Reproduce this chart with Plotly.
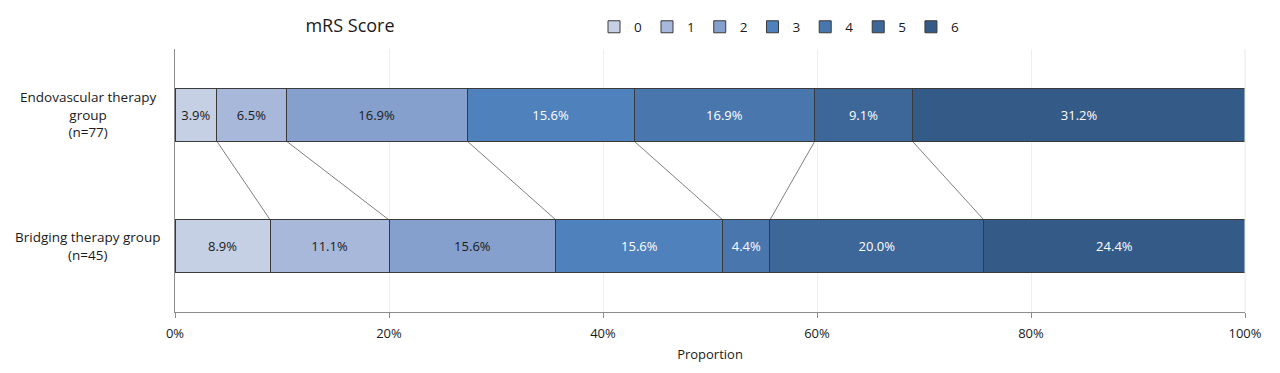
import plotly.graph_objects as go

groups = ["Endovascular therapy<br>group<br>(n=77)", "Bridging therapy group<br>(n=45)"]
scores = ["0", "1", "2", "3", "4", "5", "6"]
endo = [3.9, 6.5, 16.9, 15.6, 16.9, 9.1, 31.2]
bridging = [8.9, 11.1, 15.6, 15.6, 4.4, 20.0, 24.4]
colors = ["#c6d0e4", "#a8b8da", "#86a0cd", "#4f81bd", "#4a76ae", "#3d6699", "#345a88"]
text_colors = ["#1a1a1a", "#1a1a1a", "#1a1a1a", "white", "white", "white", "white"]
xticks = [0, 20, 40, 60, 80, 100]
xticktext = ["0%", "20%", "40%", "60%", "80%", "100%"]

ypos = [1, 0]  # endovascular on top
bar_w = 0.4

W, H = 1272, 365  # page has an 8px body margin
L, R, T, B = 167, 35, 41, 61

fig = go.Figure()
for i, s in enumerate(scores):
    vals = [endo[i], bridging[i]]
    fig.add_trace(go.Bar(
        y=ypos, x=vals, orientation="h", name=s, width=bar_w,
        marker=dict(color=colors[i], line=dict(color="#3a3a3a", width=1)),
        text=[f"{v:.1f}%" for v in vals], textposition="inside",
        insidetextanchor="middle",
        textfont=dict(color=text_colors[i], size=13, family="Open Sans"),
        hoverinfo="skip",
    ))

# connector lines between cumulative boundaries
ce, cb = 0.0, 0.0
for i in range(len(scores) - 1):
    ce += endo[i]
    cb += bridging[i]
    fig.add_shape(type="line", xref="x", yref="y",
                  x0=ce, y0=1 - bar_w / 2, x1=cb, y1=0 + bar_w / 2,
                  line=dict(color="#7f7f7f", width=1), layer="below")

# group labels, centred like the original
plot_w = W - L - R
for yv, g in zip(ypos, groups):
    fig.add_annotation(x=(80 - L) / plot_w, xref="paper", y=yv, yref="y", text=g,
                       showarrow=False, align="center", xanchor="center", yanchor="middle",
                       font=dict(size=13.5, color="#1a1a1a"))

fig.update_layout(
    barmode="stack",
    width=W, height=H,
    margin=dict(l=L, r=R, t=T, b=B, autoexpand=False),
    paper_bgcolor="white", plot_bgcolor="white",
    font=dict(family="Open Sans", color="#1a1a1a"),
    title=dict(text="mRS Score", x=342 / W, xref="container", xanchor="center",
               y=1 - 18 / H, yref="container", yanchor="middle",
               font=dict(size=18, color="#1a1a1a")),
    legend=dict(orientation="h", x=586 / W, xref="container", xanchor="left",
                y=1 - 19 / H, yref="container", yanchor="middle",
                font=dict(size=13.5), itemwidth=30, traceorder="normal",
                tracegroupgap=0, bgcolor="rgba(0,0,0,0)"),
    showlegend=True,
)
fig.update_xaxes(range=[0, 100], tickvals=xticks, ticktext=xticktext, automargin=False,
                 showgrid=True, gridcolor="#efefef", zeroline=False,
                 showline=True, linecolor="#8c8c8c", linewidth=1, mirror=False,
                 ticks="outside", ticklen=5, tickcolor="#8c8c8c", ticklabelstandoff=4,
                 tickfont=dict(size=13), title=dict(text="Proportion", font=dict(size=13), standoff=9))
fig.update_yaxes(range=[-0.5, 1.5], tickvals=ypos, showticklabels=False, automargin=False,
                 showgrid=False, zeroline=False, showline=True, linecolor="#8c8c8c",
                 linewidth=1, ticks="")
# faint right border
fig.add_shape(type="line", xref="paper", yref="paper", x0=1, x1=1, y0=0, y1=1,
              line=dict(color="#e8e8e8", width=1))

fig.write_html("out.html")
